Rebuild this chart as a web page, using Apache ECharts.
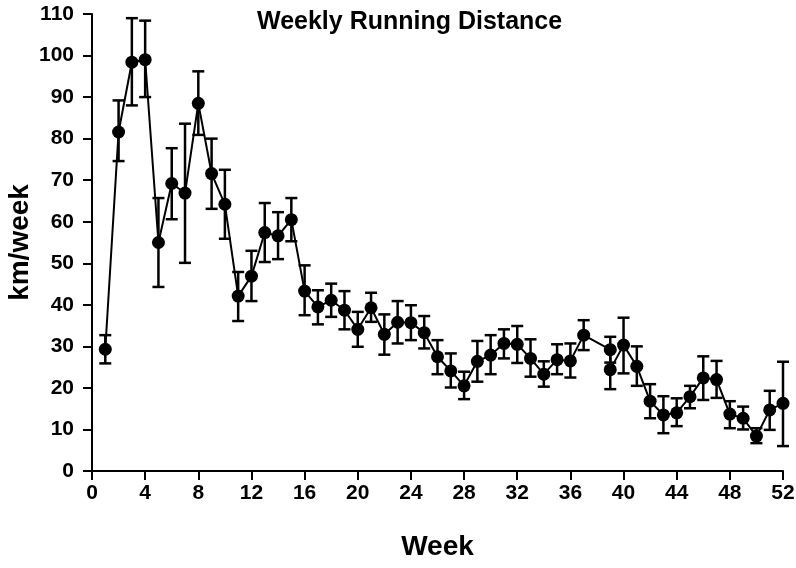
<!DOCTYPE html>
<html>
<head>
<meta charset="utf-8">
<script src="https://cdn.jsdelivr.net/npm/echarts@6/dist/echarts.min.js"></script>
<style>html,body{margin:0;padding:0;background:#fff}#c{width:796px;height:568px}</style>
</head>
<body>
<div id="c"></div>
<script>
const weeks = [1,2,3,4,5,6,7,8,9,10,11,12,13,14,15,16,17,18,19,20,21,22,23,24,25,26,27,28,29,30,31,32,33,34,35,36,37,39,39,40,41,42,43,44,45,46,47,48,49,50,51,52];
const km    = [29.3,81.6,98.4,99.0,55.0,69.2,66.9,88.5,71.6,64.2,42.1,46.9,57.4,56.6,60.5,43.3,39.5,41.1,38.7,34.1,39.3,32.9,35.8,35.7,33.3,27.5,24.1,20.5,26.4,27.9,30.7,30.5,27.1,23.3,26.8,26.5,32.7,29.2,24.4,30.3,25.2,16.8,13.5,14.0,17.9,22.4,22.0,13.7,12.7,8.4,14.7,16.3];
const errLow  = [25.9,74.6,88.0,90.0,44.3,60.6,50.1,80.9,63.1,55.9,36.1,40.9,50.3,51.0,55.3,37.5,35.3,37.1,34.1,29.9,35.9,28.0,30.7,31.5,29.5,23.3,20.1,17.3,21.5,23.3,27.1,26.0,22.7,20.3,23.3,22.5,29.1,26.1,19.7,23.5,20.5,12.7,9.1,10.8,15.1,17.1,17.6,10.3,10.0,6.7,9.9,6.0];
const errHigh = [32.7,89.2,109.0,108.4,65.7,77.7,83.6,96.2,80.0,72.5,47.9,53.0,64.5,62.3,65.7,49.5,43.5,45.1,43.3,38.3,42.9,37.7,40.9,39.9,37.3,31.5,28.3,23.9,31.3,32.7,34.1,34.9,31.7,26.4,30.5,30.7,36.3,32.3,29.1,36.9,30.0,20.9,18.0,17.5,20.5,27.6,26.5,16.8,15.5,10.3,19.3,26.3];
const xTicks = [0,4,8,12,16,20,24,28,32,36,40,44,48,52];
const yTicks = [0,10,20,30,40,50,60,70,80,90,100,110];
const titleText = 'Weekly Running Distance';
const xName = 'Week';
const yName = 'km/week';

const lineData = weeks.map((w,i)=>[w, km[i]]);
const errData = weeks.map((w,i)=>[w, errLow[i], errHigh[i]]);
const FONT = '"Liberation Sans", Arial, sans-serif';

const chart = echarts.init(document.getElementById('c'), null, {renderer:'canvas'});
chart.setOption({
  animation:false,
  backgroundColor:'#fff',
  title:{text:titleText, left:252, top:5, textStyle:{fontFamily:FONT, fontWeight:'bold', fontSize:25, color:'#000'}},
  grid:{left:92, right:13, top:14, bottom:97, containLabel:false, outerBoundsMode:'none'},
  xAxis:{
    type:'value', min:xTicks[0], max:xTicks[xTicks.length-1], interval:4,
    name:xName, nameLocation:'middle', nameGap:62, nameMoveOverlap:false,
    nameTextStyle:{fontFamily:FONT, fontWeight:'bold', fontSize:28, color:'#000'},
    axisLine:{show:true, onZero:false, lineStyle:{color:'#000', width:2}},
    axisTick:{show:true, length:9, lineStyle:{color:'#000', width:2}},
    axisLabel:{margin:12, fontFamily:FONT, fontWeight:'bold', fontSize:21, color:'#000'},
    splitLine:{show:false}
  },
  yAxis:{
    type:'value', min:yTicks[0], max:yTicks[yTicks.length-1], interval:10,
    name:yName, nameLocation:'middle', nameGap:58, nameRotate:90, nameMoveOverlap:false,
    nameTextStyle:{fontFamily:FONT, fontWeight:'bold', fontSize:28, color:'#000'},
    axisLine:{show:true, lineStyle:{color:'#000', width:2}},
    axisTick:{show:true, length:9, lineStyle:{color:'#000', width:2}},
    axisLabel:{margin:18, fontFamily:FONT, fontWeight:'bold', fontSize:21, color:'#000'},
    splitLine:{show:false}
  },
  series:[
    {
      type:'custom', data:errData, z:3,
      renderItem:function(params, api){
        const x = api.value(0);
        const lo = api.coord([x, api.value(1)]);
        const hi = api.coord([x, api.value(2)]);
        const cw = 6;
        const st = {stroke:'#000', lineWidth:2.5};
        return {type:'group', children:[
          {type:'line', shape:{x1:lo[0], y1:lo[1], x2:hi[0], y2:hi[1]}, style:st},
          {type:'line', shape:{x1:lo[0]-cw, y1:lo[1], x2:lo[0]+cw, y2:lo[1]}, style:st},
          {type:'line', shape:{x1:hi[0]-cw, y1:hi[1], x2:hi[0]+cw, y2:hi[1]}, style:st}
        ]};
      }
    },
    {
      type:'line', data:lineData, z:4,
      symbol:'circle', symbolSize:13,
      lineStyle:{color:'#000', width:2},
      itemStyle:{color:'#000'}
    }
  ]
});
</script>
</body>
</html>
